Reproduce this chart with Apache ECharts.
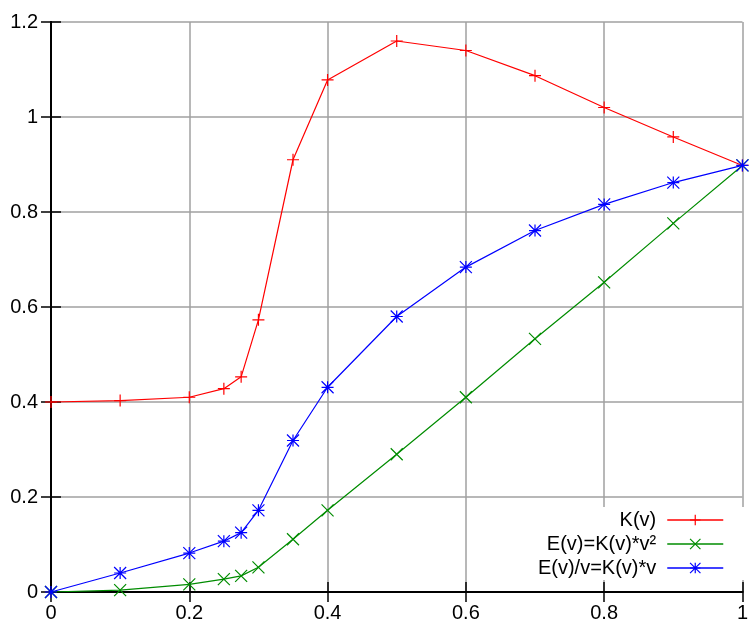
<!DOCTYPE html>
<html>
<head>
<meta charset="utf-8">
<script src="https://cdn.jsdelivr.net/npm/echarts@6/dist/echarts.min.js"></script>
<style>
  html, body { margin: 0; padding: 0; background: #fff; }
  #chart { width: 751px; height: 623px; }
</style>
</head>
<body>
<div id="chart"></div>
<script>
// Sample velocities
const v = [0, 0.1, 0.2, 0.25, 0.275, 0.3, 0.35, 0.4, 0.5, 0.6, 0.7, 0.8, 0.9, 1.0];
// K(v)
const kValues = [0.4, 0.403, 0.41, 0.428, 0.453, 0.573, 0.91, 1.078, 1.16, 1.14, 1.087, 1.02, 0.958, 0.898];
// E(v) = K(v)*v^2
const eValues = [0, 0.004, 0.016, 0.027, 0.034, 0.052, 0.111, 0.172, 0.29, 0.41, 0.533, 0.652, 0.776, 0.898];
// E(v)/v = K(v)*v
const evValues = [0, 0.04, 0.082, 0.107, 0.125, 0.172, 0.319, 0.431, 0.58, 0.684, 0.761, 0.816, 0.862, 0.898];

const seriesNames = ['K(v)', 'E(v)=K(v)*v²', 'E(v)/v=K(v)*v'];
const seriesColors = ['#ff0000', '#008c00', '#0000ff'];

// Point glyphs: plus, cross, asterisk
const PLUS = 'path://M0,6L12,6M6,0L6,12';
const CROSS = 'path://M0,0L12,12M12,0L0,12';
const STAR = 'path://M0,6L12,6M6,0L6,12M0,0L12,12M12,0L0,12';
const symbols = [PLUS, CROSS, STAR];

const xTicks = { min: 0, max: 1, interval: 0.2 };
const yTicks = { min: 0, max: 1.2, interval: 0.2 };

const FONT = '"Liberation Sans", Arial, sans-serif';

function pairs(ys) {
  return v.map((x, i) => [x, ys[i]]);
}

const chart = echarts.init(document.getElementById('chart'), null, { renderer: 'canvas' });

const series = [kValues, eValues, evValues].map((ys, i) => ({
  name: seriesNames[i],
  type: 'line',
  data: pairs(ys),
  symbol: symbols[i],
  symbolSize: 12,
  showAllSymbol: true,
  lineStyle: { color: seriesColors[i], width: 1.2 },
  itemStyle: { color: seriesColors[i], borderColor: seriesColors[i], borderWidth: 1.2 },
  emphasis: { disabled: true },
  animation: false,
  z: 3
}));

const axisLine = { show: true, lineStyle: { color: '#000', width: 2 } };
const innerTick = { show: true, inside: true, length: 10, lineStyle: { color: '#000', width: 1.5 } };

chart.setOption({
  animation: false,
  backgroundColor: '#fff',
  grid: { left: 51, right: 4, top: 22, bottom: 31, containLabel: false },
  legend: {
    data: seriesNames,
    orient: 'vertical',
    right: 5,
    top: 507,
    align: 'right',
    itemWidth: 56,
    itemHeight: 13,
    itemGap: 0,
    padding: [1, 22, 0, 10],
    backgroundColor: '#fff',
    itemStyle: { borderWidth: 1.2 },
    lineStyle: { width: 1.5 },
    textStyle: { fontFamily: FONT, fontSize: 20, color: '#000', lineHeight: 24, padding: [0, 6, 0, 0] },
    selectedMode: false
  },
  xAxis: [
    {
      type: 'value', position: 'bottom',
      min: xTicks.min, max: xTicks.max, interval: xTicks.interval,
      axisLine: axisLine, axisTick: innerTick,
      axisLabel: { fontFamily: FONT, fontSize: 20, color: '#000', margin: 11 },
      splitLine: { show: true, lineStyle: { color: '#a0a0a0', width: 1.5 } }
    },
    {
      type: 'value', position: 'top',
      min: xTicks.min, max: xTicks.max, interval: xTicks.interval,
      axisLine: axisLine, axisTick: innerTick,
      axisLabel: { show: false },
      splitLine: { show: false }
    }
  ],
  yAxis: [
    {
      type: 'value', position: 'left',
      min: yTicks.min, max: yTicks.max, interval: yTicks.interval,
      axisLine: axisLine, axisTick: innerTick,
      axisLabel: { fontFamily: FONT, fontSize: 20, color: '#000', margin: 13 },
      splitLine: { show: true, lineStyle: { color: '#a0a0a0', width: 1.5 } }
    },
    {
      type: 'value', position: 'right',
      min: yTicks.min, max: yTicks.max, interval: yTicks.interval,
      axisLine: axisLine, axisTick: innerTick,
      axisLabel: { show: false },
      splitLine: { show: false }
    }
  ],
  series: series
});
</script>
</body>
</html>
